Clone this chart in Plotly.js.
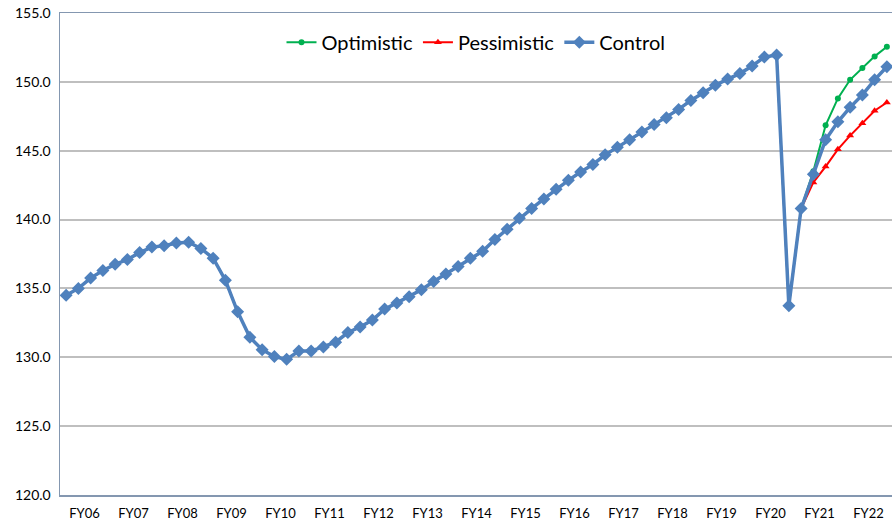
<!DOCTYPE html>
<html>
<head>
<meta charset="utf-8">
<script src="https://cdn.plot.ly/plotly-3.0.1.min.js"></script>
<style>html,body{margin:0;padding:0;background:#fff;}#chart{width:892px;height:522px;}</style>
</head>
<body>
<div id="chart"></div>
<script>
// Quarterly index values, FY06 Q1 .. FY22 Q4 (68 quarters)
const fiscalYears = ["FY06","FY07","FY08","FY09","FY10","FY11","FY12","FY13","FY14","FY15","FY16","FY17","FY18","FY19","FY20","FY21","FY22"];

// Shared history (quarters 0..60)
const history = [
  134.5, 135.0, 135.75, 136.3, 136.75, 137.1, 137.6, 138.0, 138.1, 138.3,
  138.35, 137.9, 137.2, 135.6, 133.3, 131.45, 130.55, 130.05, 129.85, 130.45,
  130.45, 130.75, 131.1, 131.8, 132.2, 132.7, 133.5, 133.95, 134.4, 134.9,
  135.5, 136.05, 136.6, 137.2, 137.7, 138.55, 139.3, 140.1, 140.8, 141.5,
  142.2, 142.85, 143.45, 144.0, 144.7, 145.25, 145.8, 146.35, 146.9, 147.4,
  148.0, 148.65, 149.2, 149.75, 150.2, 150.6, 151.15, 151.8, 151.95, 133.75,
  140.8
];
// Scenario forecasts (quarters 61..67)
const optimisticForecast  = [143.5, 146.85, 148.8, 150.15, 151.0, 151.85, 152.55];
const pessimisticForecast = [142.7, 143.85, 145.1, 146.1, 147.0, 147.9, 148.5];
const controlForecast     = [143.3, 145.8, 147.1, 148.15, 149.05, 150.15, 151.1];

const optimistic  = history.concat(optimisticForecast);
const pessimistic = history.concat(pessimisticForecast);
const control     = history.concat(controlForecast);

const quarters = control.map((_, i) => i);
const tickPositions = fiscalYears.map((_, k) => 1.5 + 4 * k);

const traces = [
  {name: "Optimistic", x: quarters, y: optimistic, type: "scatter", mode: "lines+markers",
   line: {color: "#00B050", width: 2}, marker: {symbol: "circle", size: 6, color: "#00B050"}},
  {name: "Pessimistic", x: quarters, y: pessimistic, type: "scatter", mode: "lines+markers",
   line: {color: "#FF0000", width: 2}, marker: {symbol: "triangle-up", size: 7, color: "#FF0000"}},
  {name: "Control", x: quarters, y: control, type: "scatter", mode: "lines+markers",
   line: {color: "#4F81BD", width: 3.5}, marker: {symbol: "diamond", size: 10, color: "#4F81BD"}}
];

const layout = {
  width: 892, height: 522,
  margin: {l: 60, r: 0, t: 13, b: 27, pad: 0},
  paper_bgcolor: "#fff", plot_bgcolor: "#fff",
  showlegend: true,
  legend: {orientation: "h", x: 0.5, xanchor: "center", y: 0.98, yanchor: "top",
           font: {family: "Lato, 'Open Sans', sans-serif", size: 20, color: "#000"},
           bgcolor: "rgba(0,0,0,0)", itemwidth: 30, traceorder: "normal"},
  xaxis: {range: [-0.5, 67.42], tickmode: "array", tickvals: tickPositions, ticktext: fiscalYears,
          showgrid: false, zeroline: false, showline: true, mirror: true, linecolor: "#8497B0", linewidth: 1.5,
          ticks: "", ticklabelstandoff: 6,
          tickfont: {family: "Lato, 'DejaVu Sans', sans-serif", size: 13, color: "#000"}},
  yaxis: {range: [120, 155], dtick: 5, tick0: 120, tickformat: ".1f",
          showgrid: true, gridcolor: "#BFBFBF", gridwidth: 2, zeroline: false,
          showline: true, linecolor: "#8497B0", linewidth: 1.5, ticks: "", ticklabelstandoff: 5,
          tickfont: {family: "Lato, 'DejaVu Sans', sans-serif", size: 14, color: "#000"}}
};

Plotly.newPlot("chart", traces, layout, {displayModeBar: false, staticPlot: true});
</script>
</body>
</html>
